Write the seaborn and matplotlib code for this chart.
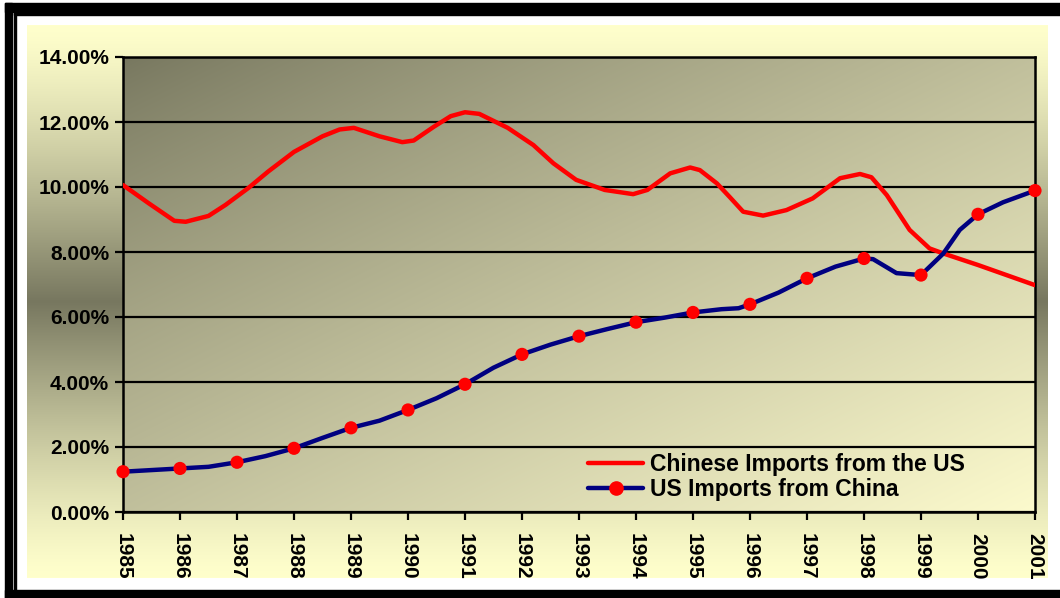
import numpy as np
import matplotlib
matplotlib.use('Agg')
import matplotlib.pyplot as plt
import seaborn as sns
from matplotlib.lines import Line2D
from matplotlib.patches import Rectangle
from matplotlib.ticker import PercentFormatter, MultipleLocator

# 年份与数据（单位：%）
years = list(range(1985, 2002))
us_from_china = [1.24, 1.34, 1.53, 1.96, 2.59, 3.14, 3.93, 4.85, 5.41,
                 5.84, 6.14, 6.39, 7.19, 7.80, 7.29, 9.16, 9.89]

# 平滑曲线读数（含年份之间的点）
us_path_x = [1985.0, 1985.5, 1986.0, 1986.5, 1987.0, 1987.5, 1988.0, 1988.5,
             1989.0, 1989.5, 1990.0, 1990.5, 1991.0, 1991.5, 1992.0, 1992.5,
             1993.0, 1993.5, 1994.0, 1994.5, 1995.0, 1995.5, 1995.8, 1996.0,
             1996.5, 1997.0, 1997.5, 1998.0, 1998.16, 1998.57, 1999.0,
             1999.39, 1999.68, 2000.0, 2000.44, 2001.0]
us_path_y = [1.24, 1.29, 1.34, 1.39, 1.53, 1.72, 1.96, 2.28,
             2.59, 2.81, 3.14, 3.50, 3.93, 4.44, 4.85, 5.15,
             5.41, 5.63, 5.84, 5.98, 6.14, 6.24, 6.27, 6.39,
             6.75, 7.19, 7.55, 7.80, 7.78, 7.35, 7.29,
             7.95, 8.68, 9.16, 9.53, 9.89]

cn_path_x = [1985.0, 1985.45, 1985.9, 1986.1, 1986.5, 1986.8, 1987.2, 1987.55,
             1988.0, 1988.5, 1988.8, 1989.05, 1989.5, 1989.9, 1990.1, 1990.45,
             1990.75, 1991.0, 1991.25, 1991.75, 1992.2, 1992.55, 1992.95,
             1993.45, 1993.95, 1994.2, 1994.6, 1994.95, 1995.12, 1995.42,
             1995.65, 1995.88, 1996.23, 1996.64, 1997.1, 1997.58, 1997.93,
             1998.13, 1998.4, 1998.8, 1999.15, 1999.4, 2000.0, 2001.0]
cn_path_y = [10.06, 9.50, 8.96, 8.93, 9.11, 9.45, 9.97, 10.48,
             11.08, 11.56, 11.77, 11.82, 11.56, 11.38, 11.43, 11.85,
             12.18, 12.30, 12.25, 11.82, 11.29, 10.73, 10.22,
             9.91, 9.78, 9.91, 10.42, 10.60, 10.52, 10.11,
             9.68, 9.24, 9.12, 9.29, 9.65, 10.27, 10.40,
             10.30, 9.75, 8.68, 8.11, 7.95, 7.60, 6.98]

labels = ['Chinese Imports from the US', 'US Imports from China']

sns.set_theme(style='white')
plt.rcParams['font.family'] = ['Liberation Sans', 'DejaVu Sans']
plt.rcParams['font.weight'] = 'bold'

W, H = 1060, 598
fig = plt.figure(figsize=(W / 100, H / 100), dpi=100)
fig.patch.set_facecolor('white')

# 背景层（像素坐标）
bg = fig.add_axes([0, 0, 1, 1])
bg.axis('off')

cream = np.array([255, 255, 204]) / 255
olive = np.array([119, 119, 95]) / 255
light = np.array([252, 250, 205]) / 255

# 外框区域：上下浅、中间深
v = np.linspace(0, 1, 300)
t = 1 - np.abs(v - 0.5) * 2
outer = cream + (olive - cream) * (t[:, None] ** 1.3)
bg.imshow(outer[:, None, :], extent=(27, 1048, 578, 25), aspect='auto',
          interpolation='bilinear')

# 绘图区：左上深、右下浅
yy, xx = np.mgrid[0:1:300j, 0:1:300j]
tt = ((xx + yy) / 2) ** 0.85
inner = olive + (light - olive) * tt[..., None]
bg.imshow(inner, extent=(123, 1035, 512, 57), aspect='auto',
          interpolation='bilinear')

# 黑色双线边框
bg.add_patch(Rectangle((5, 3), W - 5, 9, color='black'))
bg.add_patch(Rectangle((5, 3), 7, H - 3, color='black'))
bg.add_patch(Rectangle((5, 590), W - 5, 8, color='black'))
bg.add_patch(Rectangle((13.5, 13.3), W - 13.5, 2, color='black'))
bg.add_patch(Rectangle((13.5, 13.3), 2.2, 578, color='black'))
bg.set_xlim(0, W)
bg.set_ylim(H, 0)

# 主图
ax = fig.add_axes([123 / W, (H - 512) / H, 912 / W, 455 / H])
ax.set_facecolor('none')

sns.lineplot(x=cn_path_x, y=cn_path_y, color='#FF0000', lw=3.2, ax=ax,
             zorder=3, solid_joinstyle='round', solid_capstyle='round')
sns.lineplot(x=us_path_x, y=us_path_y, color='#000080', lw=3.2, ax=ax,
             zorder=3, solid_joinstyle='round', solid_capstyle='round')
sns.scatterplot(x=years, y=us_from_china, color='#FF0000', s=90,
                edgecolor='none', ax=ax, zorder=4, clip_on=False)

ax.set_xlim(1985, 2001)
ax.set_ylim(0, 14)
ax.yaxis.set_major_locator(MultipleLocator(2))
ax.yaxis.set_major_formatter(PercentFormatter(decimals=2))
ax.set_xticks(years)
ax.set_xticklabels([str(y) for y in years], rotation=-90)
ax.set_xlabel('')
ax.set_ylabel('')

ax.yaxis.grid(True, color='black', lw=1.6)
ax.xaxis.grid(False)
ax.tick_params(axis='both', direction='out', length=6, width=1.6,
               color='black', labelsize=15, labelcolor='black',
               bottom=True, left=True)
ax.tick_params(axis='x', pad=9)
ax.tick_params(axis='y', pad=4)
for s in ax.spines.values():
    s.set_color('black')
    s.set_linewidth(1.8)

h1 = Line2D([], [], color='#FF0000', lw=3.2)
h2 = Line2D([], [], color='#000080', lw=3.2, marker='o', markersize=9.5,
            markerfacecolor='#FF0000', markeredgecolor='#FF0000')
ax.legend([h1, h2], labels, loc='center left',
          bbox_to_anchor=((588 - 123) / 912, (512 - 477) / 455),
          frameon=False, borderpad=0, borderaxespad=0, handlelength=2.4,
          handletextpad=0.3, labelspacing=0.05, labelcolor='black',
          prop={'weight': 'bold', 'size': 16.5})

fig.savefig('out.png', dpi=100)
plt.close()
